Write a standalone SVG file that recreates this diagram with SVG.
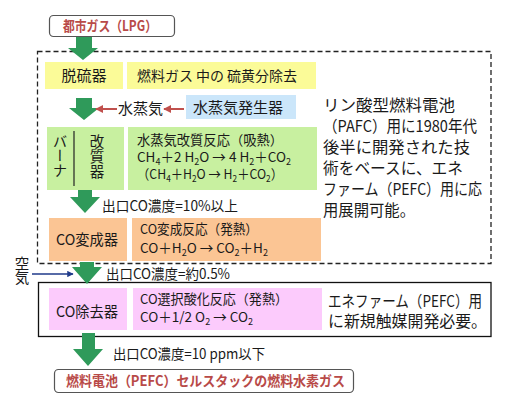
<svg xmlns="http://www.w3.org/2000/svg" width="516" height="412" viewBox="0 0 516 412">
<defs>
<style>
text{font-family:"Noto Sans CJK JP","Noto Sans",sans-serif;fill:#1a1a1a;font-size:14px}
.t{font-size:13.5px}
.lab{font-size:15px}
.side{font-size:16px}
.vert{font-size:14.5px;writing-mode:vertical-rl}
.bold{font-weight:bold;fill:#b84a48;font-size:14px}
.yel{fill:#fbfb98}
.blu{fill:#cbe6fa}
.grn{fill:#c8f0a0}
.org{fill:#fbc594}
.pnk{fill:#fccbfc}
.garrow{fill:#2f9a5a}
.sub{font-size:9px}
</style>
<marker id="redhead" viewBox="0 0 10 10" refX="9" refY="5" markerWidth="4" markerHeight="4" orient="auto"><path d="M0,0 L10,5 L0,10 z" fill="#c0504d"/></marker>
<marker id="bluehead" viewBox="0 0 10 10" refX="9" refY="5" markerWidth="4" markerHeight="4" orient="auto"><path d="M0,0 L10,5 L0,10 z" fill="#1f3a8a"/></marker>
</defs>
<rect width="516" height="412" fill="#ffffff"/>

<!-- containers -->
<rect x="37.5" y="51.5" width="453.5" height="212" fill="none" stroke="#222" stroke-width="1.3" stroke-dasharray="5,3"/>
<rect x="38.5" y="282.5" width="452.5" height="54" fill="none" stroke="#111" stroke-width="1.3"/>

<g id="connectors">
<path class="garrow" d="M76,37 H92 V48 H98 L83,60 L68,48 H76 Z"/>
<path class="garrow" d="M76,98 H92 V108 H99 L84,120 L69,108 H76 Z"/>
<path class="garrow" d="M78,190 H92 V197 H100 L85,213 L70,197 H78 Z"/>
<path class="garrow" d="M80,262 H94 V267 H102 L87,284 L72,267 H80 Z"/>
<path class="garrow" d="M82,333 H95 V349 H103 L88,366 L73,349 H82 Z"/>
<line x1="117" y1="109" x2="96" y2="109" stroke="#c0504d" stroke-width="2" marker-end="url(#redhead)"/>
<line x1="184" y1="109" x2="164" y2="109" stroke="#c0504d" stroke-width="2" marker-end="url(#redhead)"/>
<line x1="32" y1="274" x2="73" y2="274" stroke="#1f3a8a" stroke-width="1.6" marker-end="url(#bluehead)"/>
</g>

<g id="city-gas">
<rect x="49.5" y="15.5" width="125" height="21" rx="4" fill="#fff" stroke="#555" stroke-width="1.2"/>
<text class="bold" x="63" y="31" textLength="94" lengthAdjust="spacingAndGlyphs">都市ガス（LPG）</text>
</g>

<g id="desulfurizer">
<rect class="yel" x="45" y="62" width="78" height="27"/>
<text class="lab" x="84" y="81" text-anchor="middle">脱硫器</text>
<rect class="yel" x="127" y="62" width="189" height="27"/>
<text class="t" x="137" y="81" textLength="160" lengthAdjust="spacingAndGlyphs">燃料ガス 中の 硫黄分除去</text>
</g>

<g id="steam">
<text class="lab" x="118" y="114">水蒸気</text>
</g>

<g id="steam-generator">
<rect class="blu" x="186" y="95" width="110" height="24"/>
<text class="lab" x="193" y="113">水蒸気発生器</text>
</g>

<g id="reformer">
<rect class="grn" x="47" y="127" width="77" height="63"/>
<line x1="74" y1="131" x2="74" y2="186" stroke="#222" stroke-width="1.2"/>
<text class="vert" x="60" y="134">バーナ</text>
<text class="vert" x="97" y="134" letter-spacing="0.5">改質器</text>
<rect class="grn" x="128" y="127" width="189" height="63"/>
<text class="t" x="137" y="145" textLength="146" lengthAdjust="spacingAndGlyphs">水蒸気改質反応（吸熱）</text>
<text class="t" x="137" y="162" textLength="154" lengthAdjust="spacingAndGlyphs">CH<tspan class="sub" dy="3">4</tspan><tspan dy="-3">＋2 H</tspan><tspan class="sub" dy="3">2</tspan><tspan dy="-3">O → 4 H</tspan><tspan class="sub" dy="3">2</tspan><tspan dy="-3">＋CO</tspan><tspan class="sub" dy="3">2</tspan></text>
<text class="t" x="137" y="179" textLength="146" lengthAdjust="spacingAndGlyphs">（CH<tspan class="sub" dy="3">4</tspan><tspan dy="-3">＋H</tspan><tspan class="sub" dy="3">2</tspan><tspan dy="-3">O → H</tspan><tspan class="sub" dy="3">2</tspan><tspan dy="-3">＋CO</tspan><tspan class="sub" dy="3">2</tspan><tspan dy="-3">）</tspan></text>
</g>

<text x="102" y="211" textLength="136" lengthAdjust="spacingAndGlyphs">出口CO濃度=10%以上</text>

<g id="shift-converter">
<rect class="org" x="49" y="218" width="78" height="43"/>
<text class="lab" x="56" y="245" textLength="62" lengthAdjust="spacingAndGlyphs">CO変成器</text>
<rect class="org" x="132" y="218" width="189" height="43"/>
<text class="t" x="140" y="234" textLength="118" lengthAdjust="spacingAndGlyphs">CO変成反応（発熱）</text>
<text class="t" x="140" y="253" textLength="128" lengthAdjust="spacingAndGlyphs">CO＋H<tspan class="sub" dy="3">2</tspan><tspan dy="-3">O → CO</tspan><tspan class="sub" dy="3">2</tspan><tspan dy="-3">＋H</tspan><tspan class="sub" dy="3">2</tspan></text>
</g>

<g id="pafc-note">
<text class="side" x="323" y="111" textLength="132" lengthAdjust="spacingAndGlyphs">リン酸型燃料電池</text>
<text class="side" x="323" y="132" textLength="154" lengthAdjust="spacingAndGlyphs">（PAFC）用に1980年代</text>
<text class="side" x="323" y="153" textLength="147" lengthAdjust="spacingAndGlyphs">後半に開発された技</text>
<text class="side" x="323" y="174" textLength="140" lengthAdjust="spacingAndGlyphs">術をベースに、エネ</text>
<text class="side" x="323" y="195" textLength="159" lengthAdjust="spacingAndGlyphs">ファーム（PEFC）用に応</text>
<text class="side" x="323" y="216" textLength="92" lengthAdjust="spacingAndGlyphs">用展開可能。</text>
</g>

<g id="air">
<text class="vert" x="22" y="256">空気</text>
</g>

<text x="106" y="279" textLength="124" lengthAdjust="spacingAndGlyphs">出口CO濃度=約0.5%</text>

<g id="co-remover">
<rect class="pnk" x="49" y="288" width="78" height="42"/>
<text class="lab" x="56" y="317" textLength="62" lengthAdjust="spacingAndGlyphs">CO除去器</text>
<rect class="pnk" x="133" y="288" width="189" height="42"/>
<text class="t" x="140" y="304" textLength="148" lengthAdjust="spacingAndGlyphs">CO選択酸化反応（発熱）</text>
<text class="t" x="140" y="322" textLength="113" lengthAdjust="spacingAndGlyphs">CO＋1/2 O<tspan class="sub" dy="3">2</tspan><tspan dy="-3"> → CO</tspan><tspan class="sub" dy="3">2</tspan></text>
<text class="side" x="328" y="307" textLength="154" lengthAdjust="spacingAndGlyphs">エネファーム（PEFC）用</text>
<text class="side" x="328" y="327" textLength="159" lengthAdjust="spacingAndGlyphs">に新規触媒開発必要。</text>
</g>

<text x="113" y="359" textLength="152" lengthAdjust="spacingAndGlyphs">出口CO濃度=10 ppm以下</text>

<g id="fuel-gas">
<rect x="54.5" y="369.5" width="299" height="23" rx="4" fill="#fff" stroke="#555" stroke-width="1.2"/>
<text class="bold" x="66" y="386" textLength="279" lengthAdjust="spacingAndGlyphs">燃料電池（PEFC）セルスタックの燃料水素ガス</text>
</g>
</svg>
